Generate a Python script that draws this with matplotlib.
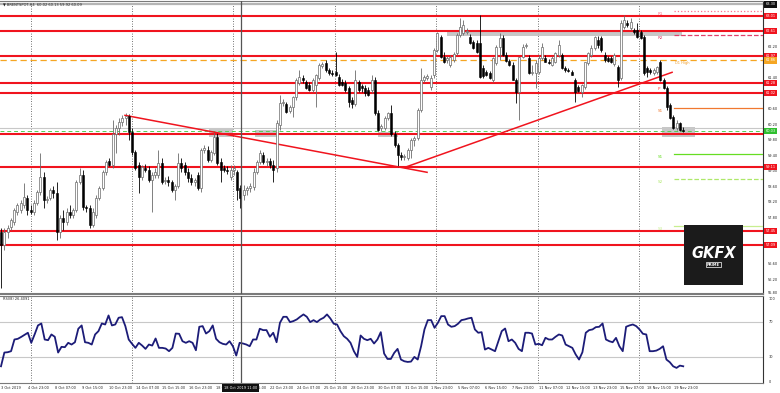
import numpy as np
import matplotlib.pyplot as plt
import matplotlib.transforms as mtransforms
from matplotlib.patches import Rectangle

# ---- data (Brent, H4) ----
opens = [57.42, 57.09, 57.42, 57.55, 57.68, 57.94, 57.99, 58.12, 58.30, 57.99,
         57.94, 58.17, 58.46, 58.84, 58.25, 58.30, 58.51, 58.43, 57.42, 57.79,
         57.68, 57.94, 57.86, 57.99, 58.71, 58.89, 58.07, 58.04, 57.61, 57.86,
         58.30, 58.56, 58.97, 59.26, 59.15, 59.95, 60.11, 60.26, 60.37, 60.42,
         60.00, 59.49, 59.15, 58.84, 59.08, 59.02, 58.77, 58.89, 58.89, 59.20,
         58.74, 58.77, 58.71, 58.51, 58.61, 59.20, 59.15, 58.97, 58.82, 58.71,
         58.89, 58.56, 59.54, 59.54, 59.28, 59.46, 59.88, 59.23, 59.08, 59.02,
         58.84, 59.02, 58.97, 58.56, 58.38, 58.51, 58.56, 58.59, 58.97, 59.23,
         59.41, 59.23, 59.26, 59.15, 59.08, 60.19, 60.75, 60.73, 60.55, 60.65,
         60.91, 61.27, 61.40, 61.29, 61.22, 61.09, 61.22, 61.40, 61.71, 61.78,
         61.60, 61.53, 61.55, 61.42, 61.29, 61.27, 61.14, 60.83, 60.73, 61.29,
         61.19, 61.14, 61.09, 61.09, 61.35, 60.50, 60.11, 60.11, 60.37, 60.50,
         59.95, 59.67, 59.41, 59.36, 59.33, 59.54, 59.80, 59.85, 60.57, 61.35,
         61.40, 61.17, 61.48, 62.12, 62.46, 61.94, 61.86, 61.73, 61.86, 62.04,
         62.51, 62.56, 62.58, 62.46, 62.33, 62.30, 62.30, 61.66, 61.55, 61.53,
         61.35, 61.78, 62.20, 62.43, 61.99, 61.84, 61.73, 61.35, 61.04, 61.94,
         62.22, 61.91, 61.53, 61.53, 61.55, 61.91, 61.91, 61.81, 61.73, 61.81,
         61.99, 61.99, 61.66, 61.60, 61.55, 61.35, 61.17, 61.04, 61.17, 61.78,
         61.99, 62.17, 62.38, 62.43, 61.99, 61.91, 61.91, 61.76, 61.68, 61.40,
         62.71, 62.82, 62.69, 62.64, 62.64, 62.58, 62.46, 61.66, 61.60, 61.53,
         61.55, 61.81, 61.35, 61.14, 60.70, 60.39, 60.11, 60.24, 60.06]
highs = [57.53, 57.53, 57.61, 57.79, 58.04, 58.17, 58.25, 58.69, 58.38, 58.12,
         58.25, 58.51, 59.46, 58.97, 58.35, 58.56, 58.61, 58.71, 57.86, 57.99,
         58.04, 58.12, 58.04, 58.77, 59.08, 59.02, 58.12, 58.12, 58.04, 58.38,
         58.61, 59.02, 59.28, 59.33, 60.31, 60.19, 60.37, 60.44, 60.50, 60.47,
         60.11, 59.54, 59.23, 59.15, 59.18, 59.13, 58.97, 59.08, 59.54, 59.33,
         58.84, 58.87, 58.77, 58.66, 59.46, 59.33, 59.23, 59.08, 58.92, 58.82,
         58.97, 59.59, 59.67, 59.64, 59.54, 60.00, 59.98, 59.33, 59.15, 59.13,
         59.15, 59.15, 59.02, 58.64, 58.64, 58.61, 58.69, 59.08, 59.28, 59.54,
         59.49, 59.33, 59.33, 59.28, 60.31, 60.96, 60.86, 60.78, 60.70, 60.93,
         61.40, 61.60, 61.48, 61.35, 61.29, 61.40, 61.50, 61.78, 61.81, 61.86,
         61.66, 61.60, 62.07, 61.50, 61.37, 61.35, 61.19, 60.91, 61.60, 61.35,
         61.24, 61.22, 61.17, 61.48, 61.42, 60.57, 60.21, 60.42, 60.52, 60.70,
         60.03, 59.72, 59.49, 59.44, 59.59, 59.85, 59.90, 60.62, 61.66, 61.48,
         61.50, 61.48, 62.17, 62.58, 62.51, 62.07, 61.96, 61.99, 62.07, 62.56,
         62.95, 62.89, 62.69, 62.53, 62.38, 62.38, 63.02, 61.73, 61.60, 61.58,
         61.94, 62.25, 62.56, 62.51, 62.07, 61.89, 61.81, 61.40, 61.94, 62.28,
         62.30, 61.99, 61.73, 61.86, 61.99, 62.30, 61.99, 61.89, 61.96, 62.07,
         62.38, 62.04, 61.71, 61.66, 61.60, 61.40, 61.22, 61.24, 61.81, 62.07,
         62.25, 62.48, 62.48, 62.48, 62.07, 61.96, 61.96, 62.04, 61.73, 62.89,
         63.02, 62.89, 62.95, 62.69, 62.82, 62.64, 62.51, 61.71, 61.66, 61.66,
         61.71, 61.86, 61.40, 61.19, 60.75, 60.44, 60.31, 60.26, 60.13]
lows = [55.98, 56.96, 57.27, 57.48, 57.61, 57.86, 57.91, 58.04, 57.86, 57.89,
        57.86, 58.12, 58.38, 58.04, 58.17, 58.25, 58.30, 57.22, 57.27, 57.48,
        57.61, 57.79, 57.79, 57.94, 58.66, 57.99, 57.94, 57.53, 57.55, 57.79,
        58.25, 58.51, 58.89, 59.13, 59.08, 59.46, 59.93, 60.16, 60.19, 59.80,
        59.41, 59.02, 58.43, 58.77, 58.97, 58.71, 57.94, 58.82, 58.82, 58.66,
        58.66, 58.61, 58.46, 58.25, 58.56, 58.97, 58.89, 58.71, 58.64, 58.61,
        58.51, 58.46, 59.46, 59.23, 59.23, 59.41, 59.15, 58.71, 58.97, 58.92,
        58.77, 58.89, 58.25, 58.04, 58.25, 58.38, 58.46, 58.51, 58.92, 59.18,
        59.18, 59.13, 59.08, 58.71, 58.97, 60.06, 60.67, 60.50, 60.50, 60.39,
        60.83, 61.22, 61.27, 61.11, 61.06, 61.04, 60.65, 61.35, 61.66, 61.55,
        61.48, 61.45, 61.45, 61.19, 61.19, 61.04, 60.65, 60.62, 60.67, 61.04,
        61.04, 60.93, 60.93, 61.01, 60.44, 60.03, 60.03, 60.06, 60.31, 59.90,
        59.62, 59.10, 59.28, 59.28, 59.28, 59.33, 59.64, 59.80, 60.52, 61.29,
        61.35, 61.09, 61.40, 62.07, 61.91, 61.78, 61.78, 61.68, 61.81, 61.99,
        62.46, 62.51, 62.53, 62.28, 62.15, 62.04, 61.40, 61.40, 61.45, 61.37,
        61.29, 61.73, 61.86, 61.96, 61.81, 61.71, 61.35, 60.75, 60.31, 61.91,
        62.17, 61.50, 61.48, 61.14, 61.50, 61.86, 61.81, 61.76, 61.71, 61.78,
        61.94, 61.63, 61.55, 61.55, 61.48, 60.78, 61.04, 60.91, 61.11, 61.73,
        61.94, 62.12, 62.17, 62.07, 61.81, 61.81, 61.78, 61.71, 61.17, 61.35,
        62.66, 62.71, 62.64, 62.53, 62.43, 62.40, 61.48, 61.42, 61.50, 61.48,
        61.50, 61.32, 61.11, 60.57, 60.34, 60.08, 60.06, 60.03, 60.00]
closes = [57.09, 57.42, 57.53, 57.73, 57.99, 58.12, 58.17, 58.33, 57.99, 57.94,
          58.17, 58.46, 58.84, 58.25, 58.28, 58.51, 58.43, 57.42, 57.79, 57.68,
          57.94, 57.86, 57.99, 58.71, 58.89, 58.07, 58.04, 57.61, 57.94, 58.30,
          58.56, 58.97, 59.23, 59.15, 59.95, 60.11, 60.26, 60.37, 60.42, 60.00,
          59.49, 59.08, 58.84, 59.10, 59.02, 58.77, 58.89, 58.97, 59.20, 58.71,
          58.77, 58.71, 58.51, 58.61, 59.20, 59.08, 58.97, 58.82, 58.71, 58.77,
          58.56, 59.54, 59.59, 59.28, 59.49, 59.88, 59.20, 59.02, 59.02, 59.00,
          59.02, 59.08, 58.51, 58.30, 58.51, 58.56, 58.61, 58.97, 59.23, 59.46,
          59.23, 59.26, 59.15, 59.02, 60.24, 60.75, 60.78, 60.52, 60.65, 60.91,
          61.35, 61.42, 61.35, 61.14, 61.09, 61.35, 61.48, 61.73, 61.76, 61.60,
          61.53, 61.50, 61.48, 61.22, 61.22, 61.09, 60.78, 60.73, 61.35, 61.09,
          61.14, 61.01, 60.96, 61.35, 60.50, 60.06, 60.16, 60.37, 60.50, 59.95,
          59.67, 59.41, 59.36, 59.38, 59.54, 59.80, 59.85, 60.57, 61.35, 61.42,
          61.45, 61.40, 62.12, 62.56, 61.94, 61.81, 61.91, 61.94, 62.02, 62.51,
          62.71, 62.77, 62.61, 62.30, 62.17, 62.07, 61.42, 61.45, 61.48, 61.40,
          61.91, 62.20, 62.43, 61.99, 61.84, 61.73, 61.35, 61.04, 61.94, 62.20,
          62.25, 61.53, 61.55, 61.78, 61.91, 62.20, 61.81, 61.78, 61.91, 62.04,
          62.25, 61.66, 61.60, 61.58, 61.48, 61.04, 61.06, 61.22, 61.81, 62.04,
          62.17, 62.46, 62.25, 62.12, 61.86, 61.84, 61.81, 61.99, 61.35, 62.82,
          62.89, 62.77, 62.84, 62.58, 62.46, 62.43, 61.53, 61.55, 61.55, 61.60,
          61.68, 61.35, 61.14, 60.65, 60.37, 60.11, 60.24, 60.06, 60.03]

rsi_values = [18.6, 34.7, 35.1, 36.3, 50.0, 50.8, 53.0, 55.5, 57.9, 46.1,
              55.9, 66.5, 68.8, 50.0, 49.2, 55.9, 53.2, 34.7, 41.4, 41.0,
              46.1, 44.1, 46.8, 62.6, 66.5, 46.8, 46.1, 44.1, 55.9, 59.8,
              68.8, 67.6, 78.2, 66.5, 67.6, 75.5, 76.2, 65.7, 50.0, 44.9,
              40.2, 46.1, 42.9, 39.0, 44.1, 42.9, 51.2, 40.2, 40.2, 39.4,
              36.3, 40.2, 57.0, 56.7, 48.0, 46.1, 48.0, 46.1, 37.4, 64.9,
              65.7, 57.0, 59.8, 66.5, 50.8, 46.8, 44.9, 44.1, 48.0, 42.1,
              31.2, 46.1, 45.3, 44.1, 42.1, 50.0,
              50.0, 62.6, 61.0, 61.0, 53.2, 57.9, 46.8, 69.6, 76.6, 76.6,
              70.4, 71.6, 73.5, 76.6, 79.4, 76.6, 70.4, 72.7, 70.4, 73.5,
              75.5, 79.4, 74.7, 68.5, 67.6, 59.8, 53.9, 50.8, 46.1, 36.3,
              29.6, 54.7, 50.8, 49.2, 50.8, 45.3, 50.0, 58.6, 33.5, 27.2,
              27.2, 34.3, 39.0, 26.5, 24.5, 23.7, 24.1, 29.6, 26.5, 42.1,
              61.8, 72.7, 72.7, 63.7, 69.6, 77.4, 77.4, 67.6, 64.9, 65.7,
              68.5, 72.7, 73.5, 74.7, 75.5, 61.8, 57.9, 58.6, 38.2, 40.2,
              38.2, 36.3, 48.0, 59.8, 62.9, 48.0, 50.0, 46.1, 39.0,
              36.3, 57.9, 57.9, 57.0, 44.1, 44.9, 43.3, 52.0, 50.0, 50.0,
              53.2, 55.9, 54.7, 44.1, 42.1, 40.2, 32.4, 26.5, 35.1, 57.9,
              61.0, 61.8, 64.5, 64.9, 68.8, 50.0, 48.0, 46.8, 51.9, 42.1,
              36.3, 64.9, 66.5, 67.6, 65.7, 61.8, 56.7, 55.9, 36.3, 36.3,
              37.0, 39.0, 42.1, 26.5, 23.4, 18.6, 16.7, 19.4, 18.6]

date_labels = ["3 Oct 2019", "4 Oct 23:00", "8 Oct 07:00", "9 Oct 15:00", "10 Oct 23:00",
               "14 Oct 07:00", "15 Oct 15:00", "16 Oct 23:00", "18 Oct 07:00", "21 Oct 15:00",
               "22 Oct 23:00", "24 Oct 07:00", "25 Oct 15:00", "28 Oct 23:00", "30 Oct 07:00",
               "31 Oct 15:00", "1 Nov 23:00", "5 Nov 07:00", "6 Nov 15:00", "7 Nov 23:00",
               "11 Nov 07:00", "12 Nov 15:00", "13 Nov 23:00", "15 Nov 07:00", "18 Nov 15:00",
               "19 Nov 23:00"]

# support / resistance lines
red_levels = [63.01, 62.61, 61.97, 61.28, 61.02, 59.97, 59.11, 57.45, 57.09]
day_high = 61.86
bid_price = 60.03
top_level = 63.30
gray_level = 60.11

# trend lines (bar index, price)
trend1_bars = [37.8, 129.9]
trend1_prices = [60.44, 58.97]
trend2_bars = [123.2, 204.6]
trend2_prices = [59.10, 61.55]

# gray zones: start bar, end bar, low, high
zone_start = [63.4, 77.4, 114.9, 201.5, 136.0]
zone_end = [70.7, 84.1, 121.0, 211.6, 207.6]
zone_low = [59.88, 59.88, 59.88, 59.88, 62.48]
zone_high = [60.11, 60.06, 60.00, 60.13, 62.58]

# pivot levels on the right
pivot_names = ["R1", "R2", "D1 High", "P", "S1", "S1", "S2", "S3"]
pivot_prices = [63.13, 62.51, 61.86, 61.19, 60.63, 59.44, 58.79, 57.58]
pivot_colors = ["#ff6f8a", "#e0406a", "#f0a030", "#ff4040", "#f07830", "#66dd22", "#aee86a", "#c8ee90"]
pivot_styles = [":", "--", None, None, "-", "-", "--", "-"]

symbol_line = "BRENTSPOT,H4  60.02 60.13 59.92 60.09"
rsi_label = "RSI(8) 26.4091"
cross_label = "18 Oct 2019 11:00"

# ---- layout helpers (pixel grid of the 780x393 screenshot) ----
W, H = 780, 393
BAR_PX = 3.28
FS = 2.5


def px2bar(px):
    return (px - 1) / BAR_PX


o = np.array(opens)
h = np.array(highs)
l = np.array(lows)
c = np.array(closes)
x = np.arange(len(c))

fig = plt.figure(figsize=(W / 100, H / 100), dpi=100)
fig.patch.set_facecolor("white")
ax = fig.add_axes([0, 99 / H, 763 / W, 293 / H])
rax = fig.add_axes([0, 10 / H, 763 / W, 87 / H])

xlim = (px2bar(0), px2bar(763))
for a in (ax, rax):
    a.set_xlim(*xlim)
    a.set_xticks([])
    a.set_yticks([])
    for side in ("left", "top", "bottom"):
        a.spines[side].set_color("#7a7a7a")
    a.spines["left"].set_visible(False)
    a.spines["right"].set_linestyle((0, (1, 1)))
    a.spines["right"].set_color("#333333")
    a.spines["right"].set_linewidth(0.8)
    for gx in [31, 132, 233, 335, 436, 538, 639]:
        a.axvline(px2bar(gx), color="#444444", lw=0.6, ls=(0, (1, 2)), zorder=1)
    a.axvline(px2bar(241), color="#555555", lw=0.9, zorder=6)
ax.spines["bottom"].set_linewidth(1.5)
ax.set_ylim(55.83, 63.39)
rax.set_ylim(-1, 101)

# zones
for s, e, lo, hi in zip(zone_start, zone_end, zone_low, zone_high):
    ax.add_patch(Rectangle((s, lo), e - s, hi - lo, facecolor="#bdbdbd", edgecolor="none", alpha=0.85, zorder=2))

# horizontal levels
ax.axhline(top_level, color="#b5b5b5", lw=1.6, zorder=2)
ax.axhline(gray_level, color="#c8c8c8", lw=0.8, zorder=2)
ax.axhline(bid_price, color="#55cc55", lw=0.7, ls=(0, (4, 3)), zorder=2)
ax.axhline(day_high, color="#f5a623", lw=0.9, ls=(0, (5, 3)), zorder=2)
for p in red_levels:
    ax.axhline(p, color="#f0141e", lw=1.5, zorder=3)

# trend lines
ax.plot(trend1_bars, trend1_prices, color="#f0141e", lw=1.1, zorder=5)
ax.plot(trend2_bars, trend2_prices, color="#f0141e", lw=1.1, zorder=5)

# pivot lines and labels
for name, p, col, st in zip(pivot_names, pivot_prices, pivot_colors, pivot_styles):
    if st is not None:
        ax.plot([px2bar(674), px2bar(763)], [p, p], color=col, lw=0.9, ls=st, zorder=3)
    if name == "D1 High":
        ax.text(px2bar(675), p - 0.03, name, color=col, fontsize=2.6, va="top", zorder=7)
    else:
        ax.text(px2bar(658), p - 0.03, name, color=col, fontsize=3.0, va="top", zorder=7)

# candles
up = c >= o
wick_col = np.where(up, "#6a6a6a", "#000000")
ax.vlines(x, l, h, colors=wick_col, lw=0.6, zorder=4)
ax.bar(x[up], np.maximum(c[up] - o[up], 0.012), bottom=o[up], width=0.62,
       color="white", edgecolor="#6a6a6a", linewidth=0.5, zorder=5)
ax.bar(x[~up], np.maximum(o[~up] - c[~up], 0.012), bottom=c[~up], width=0.62,
       color="black", edgecolor="black", linewidth=0.4, zorder=5)

# price scale (labels hidden where a coloured marker sits, like the terminal does)
blend = mtransforms.blended_transform_factory(ax.transAxes, ax.transData)
marked = red_levels + [day_high, bid_price, top_level]
for p in np.arange(55.8, 63.01, 0.4):
    if min(abs(p - m) for m in marked) < 0.1:
        continue
    ax.text(1.006, max(p, 55.86), f"{p:.2f}", transform=blend, fontsize=FS, va="center",
            ha="left", clip_on=False, color="#222222")


def price_box(p, fc):
    ax.text(1.003, p, f"{p:.2f}", transform=blend, fontsize=FS, va="center", ha="left",
            color="white", clip_on=False, zorder=10,
            bbox=dict(boxstyle="square,pad=0.35", fc=fc, ec="none"))


for p in red_levels:
    if p != 59.97:
        price_box(p, "#f0141e")
price_box(day_high, "#f5a623")
price_box(bid_price, "#2fbf2f")
price_box(top_level, "#111111")

ax.text(0.004, 0.994, "\u25bc " + symbol_line, transform=ax.transAxes, fontsize=2.6,
        va="top", ha="left", color="#222222", zorder=8)

# RSI panel
rx = np.linspace(0, len(c) - 1, len(rsi_values))
for lvl in (70, 30):
    rax.axhline(lvl, color="#c8c8c8", lw=0.8, zorder=2)
rax.plot(rx, rsi_values, color="#1c1c78", lw=1.3, zorder=5)
rax.text(0.004, 0.985, rsi_label, transform=rax.transAxes, fontsize=FS, va="top", color="#222222")
rblend = mtransforms.blended_transform_factory(rax.transAxes, rax.transData)
for lvl in (100, 70, 30, 0):
    rax.text(1.008, lvl, str(lvl), transform=rblend, fontsize=FS,
             va="top" if lvl == 100 else "center",
             ha="left", clip_on=False, color="#222222")

# time scale
for k, lab in enumerate(date_labels):
    xp = 1 + 26.9 * k
    fig.text(xp / W, 1 - 388 / H, lab, fontsize=FS, ha="left", va="center", color="#222222")
fig.text(240.5 / W, 1 - 388 / H, cross_label, fontsize=FS, ha="center", va="center",
         color="white", zorder=10, bbox=dict(boxstyle="square,pad=0.5", fc="#111111", ec="none"))

# broker logo
lax = fig.add_axes([684 / W, 1 - 285 / H, 59 / W, 60 / H])
lax.set_facecolor("#1b1b1b")
lax.set_xticks([])
lax.set_yticks([])
for s in lax.spines.values():
    s.set_visible(False)
lax.text(0.5, 0.52, "GKFX", color="white", fontsize=10.5, fontweight="bold",
         fontstyle="italic", ha="center", va="center", transform=lax.transAxes)
lax.text(0.5, 0.34, "PRIME", color="white", fontsize=2.6, fontweight="bold",
         ha="center", va="center", transform=lax.transAxes,
         bbox=dict(boxstyle="square,pad=0.2", fc="#1b1b1b", ec="white", lw=0.5))

plt.savefig("out.png", dpi=100)
